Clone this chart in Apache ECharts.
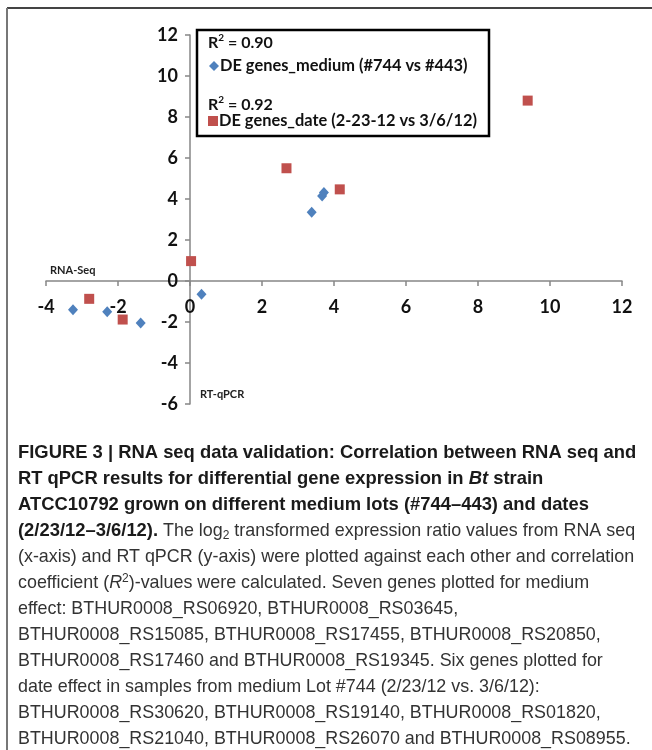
<!DOCTYPE html>
<html>
<head>
<meta charset="utf-8">
<script src="https://cdn.jsdelivr.net/npm/echarts@6/dist/echarts.min.js"></script>
<style>
html,body{margin:0;padding:0;background:#fff;}
#chart{width:652px;height:750px;}
</style>
</head>
<body>
<div id="chart"></div>
<script>
// ---- data (log2 ratios: [RNA-seq (x), RT-qPCR (y)]) ----
const seriesNames = ['DE genes_medium (#744 vs #443)', 'DE genes_date (2-23-12 vs 3/6/12)'];
const mediumPoints = [[-3.25,-1.4],[-2.3,-1.5],[-1.37,-2.05],[0.32,-0.65],[3.38,3.35],[3.67,4.15],[3.72,4.32]];
const datePoints = [[-2.8,-0.87],[-1.87,-1.88],[0.03,0.97],[2.68,5.5],[4.16,4.47],[9.38,8.8]];
const rSquared = ['0.90', '0.92'];
const xRange = [-4, 12];
const yRange = [-6, 12];
const tickStep = 2;
const xName = 'RNA-Seq';
const yName = 'RT-qPCR';
const captionLines = [
  '{b|FIGURE 3 | RNA seq data validation: Correlation between RNA seq and}',
  '{b|RT qPCR results for differential gene expression in }{bi|Bt}{b| strain}',
  '{b|ATCC10792 grown on different medium lots (#744–443) and dates}',
  '{b|(2/23/12–3/6/12).}{r| The log}{sub|2}{r| transformed expression ratio values from RNA seq}',
  '{r|(x-axis) and RT qPCR (y-axis) were plotted against each other and correlation}',
  '{r|coefficient (}{ri|R}{sup|2}{r|)-values were calculated. Seven genes plotted for medium}',
  '{r|effect: BTHUR0008_RS06920, BTHUR0008_RS03645,}',
  '{r|BTHUR0008_RS15085, BTHUR0008_RS17455, BTHUR0008_RS20850,}',
  '{r|BTHUR0008_RS17460 and BTHUR0008_RS19345. Six genes plotted for}',
  '{r|date effect in samples from medium Lot #744 (2/23/12 vs. 3/6/12):}',
  '{r|BTHUR0008_RS30620, BTHUR0008_RS19140, BTHUR0008_RS01820,}',
  '{r|BTHUR0008_RS21040, BTHUR0008_RS26070 and BTHUR0008_RS08955.}'
];

const BLUE = '#4F81BD', RED = '#C0504D', AXIS = '#868686';
const chartFont = 'Lato, "Open Sans", sans-serif';
const capFont = '"Liberation Sans", Arial, sans-serif';

// grid layout
const W = 652, H = 750;
const G = {left: 46, right: 30, top: 35, bottom: 346};
const gridW = W - G.left - G.right;
const gridH = H - G.top - G.bottom;
// shift axes so they cross at the origin (labels follow the axis lines)
const yAxisShift = gridW * (0 - xRange[0]) / (xRange[1] - xRange[0]);
const xAxisShift = gridH * (0 - yRange[0]) / (yRange[1] - yRange[0]);

const chart = echarts.init(document.getElementById('chart'), null, {renderer: 'canvas'});

const axisCommon = {
  type: 'value',
  interval: tickStep,
  splitLine: {show: false},
  axisLine: {onZero: false, lineStyle: {color: AXIS, width: 1.5}},
  axisTick: {show: true, inside: false, length: 5, lineStyle: {color: AXIS, width: 1.5}},
  axisLabel: {color: '#111', fontFamily: chartFont, fontWeight: 'bold', fontSize: 18}
};

const option = {
  backgroundColor: '#fff',
  animation: false,
  grid: {left: G.left, right: G.right, top: G.top, bottom: G.bottom, containLabel: false},
  xAxis: Object.assign({}, axisCommon, {
    position: 'bottom', offset: -xAxisShift,
    min: xRange[0], max: xRange[1],
    axisLabel: Object.assign({}, axisCommon.axisLabel, {margin: 17})
  }),
  yAxis: Object.assign({}, axisCommon, {
    position: 'left', offset: -yAxisShift,
    min: yRange[0], max: yRange[1],
    axisLabel: Object.assign({}, axisCommon.axisLabel, {margin: 12})
  }),
  legend: [
    {
      data: [seriesNames[0]], left: 209, top: 58, orient: 'vertical',
      itemWidth: 10, itemHeight: 10, itemGap: 0, padding: 0,
      textStyle: {fontFamily: chartFont, fontWeight: 'bold', fontSize: 16.4, color: '#111', padding: [0, 0, 0, -4]},
      selectedMode: false
    },
    {
      data: [seriesNames[1]], left: 208, top: 113, orient: 'vertical',
      itemWidth: 10, itemHeight: 10, itemGap: 0, padding: 0,
      textStyle: {fontFamily: chartFont, fontWeight: 'bold', fontSize: 16.4, color: '#111', padding: [0, 0, 0, -4]},
      selectedMode: false
    }
  ],
  series: [
    {
      name: seriesNames[0], type: 'scatter', data: mediumPoints,
      symbol: 'diamond', symbolSize: [10, 11],
      itemStyle: {color: BLUE, opacity: 1}
    },
    {
      name: seriesNames[1], type: 'scatter', data: datePoints,
      symbol: 'rect', symbolSize: [10, 10],
      itemStyle: {color: RED, opacity: 1}
    }
  ],
  graphic: [
    // figure frame
    {type: 'line', shape: {x1: 7, y1: 8, x2: 652, y2: 8}, style: {stroke: '#444', lineWidth: 2}, silent: true},
    {type: 'line', shape: {x1: 7, y1: 8, x2: 7, y2: 750}, style: {stroke: '#777', lineWidth: 2}, silent: true},
    // legend box
    {type: 'rect', shape: {x: 197, y: 30, width: 292, height: 106}, style: {fill: 'rgba(255,255,255,0)', stroke: '#000', lineWidth: 2.5}, silent: true, z: 10},
    {type: 'text', left: 208, top: 33, z: 11, style: {
      text: '{t|R}{s|2}{t| = ' + rSquared[0] + '}',
      rich: {t: {fontFamily: chartFont, fontWeight: 'bold', fontSize: 16, fill: '#111'},
             s: {fontFamily: chartFont, fontWeight: 'bold', fontSize: 10, fill: '#111', padding: [0, 0, 9, 0]}}
    }},
    {type: 'text', left: 208, top: 95, z: 11, style: {
      text: '{t|R}{s|2}{t| = ' + rSquared[1] + '}',
      rich: {t: {fontFamily: chartFont, fontWeight: 'bold', fontSize: 16, fill: '#111'},
             s: {fontFamily: chartFont, fontWeight: 'bold', fontSize: 10, fill: '#111', padding: [0, 0, 9, 0]}}
    }},
    // axis names
    {type: 'text', left: 50, top: 265, style: {text: xName, font: 'bold 11px ' + chartFont, fill: '#222'}},
    {type: 'text', left: 200, top: 389, style: {text: yName, font: 'bold 11px ' + chartFont, fill: '#222'}},
    // caption
    {type: 'text', left: 18, top: 440, style: {
      text: captionLines.join('\n'),
      lineHeight: 26,
      rich: {
        b: {fontFamily: capFont, fontWeight: 'bold', fontSize: 18.4, fill: '#1a1a1a', lineHeight: 26},
        bi: {fontFamily: capFont, fontWeight: 'bold', fontStyle: 'italic', fontSize: 18.4, fill: '#1a1a1a', lineHeight: 26},
        r: {fontFamily: capFont, fontSize: 17.9, fill: '#333', lineHeight: 26},
        ri: {fontFamily: capFont, fontStyle: 'italic', fontSize: 17.9, fill: '#333', lineHeight: 26},
        sub: {fontFamily: capFont, fontSize: 12, fill: '#333', lineHeight: 26, padding: [9, 0, 0, 0]},
        sup: {fontFamily: capFont, fontSize: 12, fill: '#333', lineHeight: 26, padding: [0, 0, 9, 0]}
      }
    }}
  ]
};
chart.setOption(option);
</script>
</body>
</html>
